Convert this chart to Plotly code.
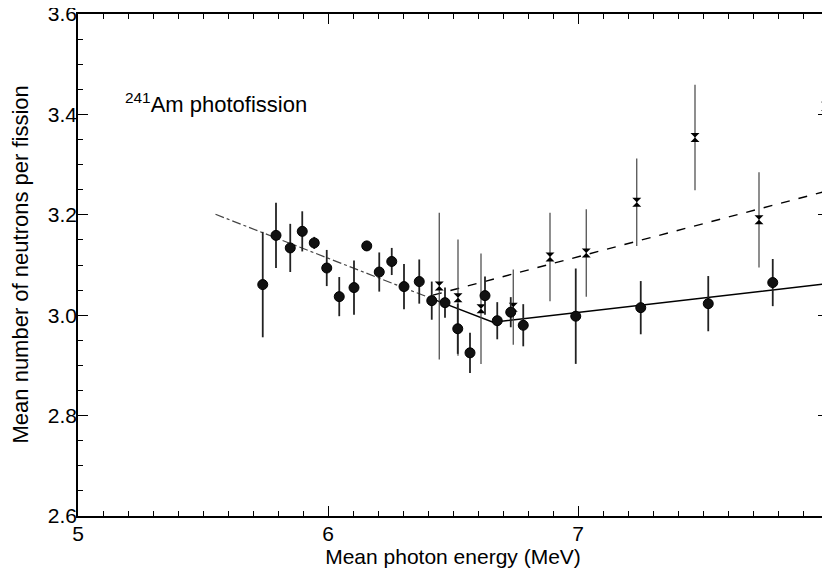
import plotly.graph_objects as go

# Circle series (filled circles)
circ_x = [5.739, 5.792, 5.849, 5.897, 5.945, 5.995, 6.045, 6.104, 6.155, 6.205,
          6.255, 6.304, 6.365, 6.415, 6.468, 6.519, 6.568, 6.628, 6.677, 6.731,
          6.781, 6.991, 7.251, 7.521, 7.779]
circ_y = [3.061, 3.159, 3.134, 3.167, 3.144, 3.094, 3.037, 3.055, 3.138, 3.086,
          3.107, 3.057, 3.067, 3.029, 3.025, 2.973, 2.925, 3.039, 2.989, 3.006,
          2.980, 2.998, 3.015, 3.023, 3.065]
circ_err = [0.105, 0.065, 0.048, 0.040, 0.012, 0.036, 0.039, 0.054, 0.010, 0.039,
            0.027, 0.045, 0.044, 0.038, 0.030, 0.050, 0.040, 0.038, 0.037, 0.030,
            0.042, 0.095, 0.053, 0.055, 0.047]

# Cross series (x markers)
cross_x = [6.445, 6.520, 6.612, 6.741, 6.888, 7.033, 7.235, 7.468, 7.724, 7.990]
cross_y = [3.058, 3.035, 3.013, 3.016, 3.116, 3.124, 3.225, 3.354, 3.190, 3.416]
cross_err = [0.146, 0.116, 0.110, 0.075, 0.088, 0.087, 0.087, 0.105, 0.095, 0.110]

# Fit lines
shared_x = [5.55, 6.42]
shared_y = [3.201, 3.032]
solid_x = [6.42, 6.66, 8.0]
solid_y = [3.032, 2.986, 3.063]
dashed_x = [6.42, 8.0]
dashed_y = [3.040, 3.248]

FONT = "Liberation Sans, Arial, Helvetica, sans-serif"

fig = go.Figure()

fig.add_trace(go.Scatter(x=shared_x, y=shared_y, mode="lines",
                         line=dict(color="#444444", width=1.2, dash="dashdot"),
                         showlegend=False, hoverinfo="skip"))
fig.add_trace(go.Scatter(x=solid_x, y=solid_y, mode="lines",
                         line=dict(color="black", width=1.4),
                         showlegend=False, hoverinfo="skip"))
fig.add_trace(go.Scatter(x=dashed_x, y=dashed_y, mode="lines",
                         line=dict(color="black", width=1.4, dash="dash"),
                         showlegend=False, hoverinfo="skip"))

fig.add_trace(go.Scatter(x=cross_x, y=cross_y, mode="markers",
                         marker=dict(symbol="hourglass", size=9, color="black"),
                         error_y=dict(type="data", array=cross_err, visible=True,
                                      color="#444444", thickness=1.2, width=0),
                         cliponaxis=False, showlegend=False))
fig.add_trace(go.Scatter(x=circ_x, y=circ_y, mode="markers",
                         marker=dict(symbol="circle", size=10, color="#111111",
                                     line=dict(color="black", width=1)),
                         error_y=dict(type="data", array=circ_err, visible=True,
                                      color="#222222", thickness=1.8, width=0),
                         cliponaxis=False, showlegend=False))

fig.add_annotation(x=5.18, y=3.422, xref="x", yref="y", xanchor="left", yanchor="middle",
                   text="<sup>241</sup>Am photofission", showarrow=False,
                   font=dict(family=FONT, size=22, color="black"))

# y-axis title as a rotated annotation so it can sit close to the page edge
fig.add_annotation(x=-0.078, y=0.5, xref="paper", yref="paper",
                   xanchor="center", yanchor="middle", textangle=-90,
                   text="Mean number of neutrons per fission", showarrow=False,
                   font=dict(family=FONT, size=22, color="black"))

# The page body adds an 8px offset; the figure is sized to fill the rest of the window.
fig.update_layout(
    width=822, height=564,
    margin=dict(l=70, r=2, t=6, b=56),
    paper_bgcolor="white", plot_bgcolor="white",
    font=dict(family=FONT, size=21, color="black"),
    xaxis=dict(range=[5, 8], tickvals=[5, 6, 7, 8], ticktext=["5", "6", "7", "8"],
               ticks="inside", ticklen=10, tickcolor="black", tickwidth=1.2,
               ticklabelstandoff=-2, ticklabeloverflow="allow",
               minor=dict(dtick=0.1, ticks="inside", ticklen=5, tickcolor="black"),
               showline=True, linecolor="black", linewidth=1.5, mirror="ticks",
               showgrid=False, zeroline=False, automargin=False,
               title=dict(text="Mean photon energy (MeV)", standoff=4,
                          font=dict(family=FONT, size=21))),
    yaxis=dict(range=[2.6, 3.6], tickvals=[2.6, 2.8, 3.0, 3.2, 3.4, 3.6],
               ticktext=["2.6", "2.8", "3.0", "3.2", "3.4", "3.6"],
               ticks="inside", ticklen=10, tickcolor="black", tickwidth=1.2,
               ticklabelstandoff=-5, ticklabeloverflow="allow",
               minor=dict(dtick=0.05, ticks="inside", ticklen=5, tickcolor="black"),
               showline=True, linecolor="black", linewidth=1.5, mirror="ticks",
               showgrid=False, zeroline=False, automargin=False),
)

fig.write_html("out.html")
